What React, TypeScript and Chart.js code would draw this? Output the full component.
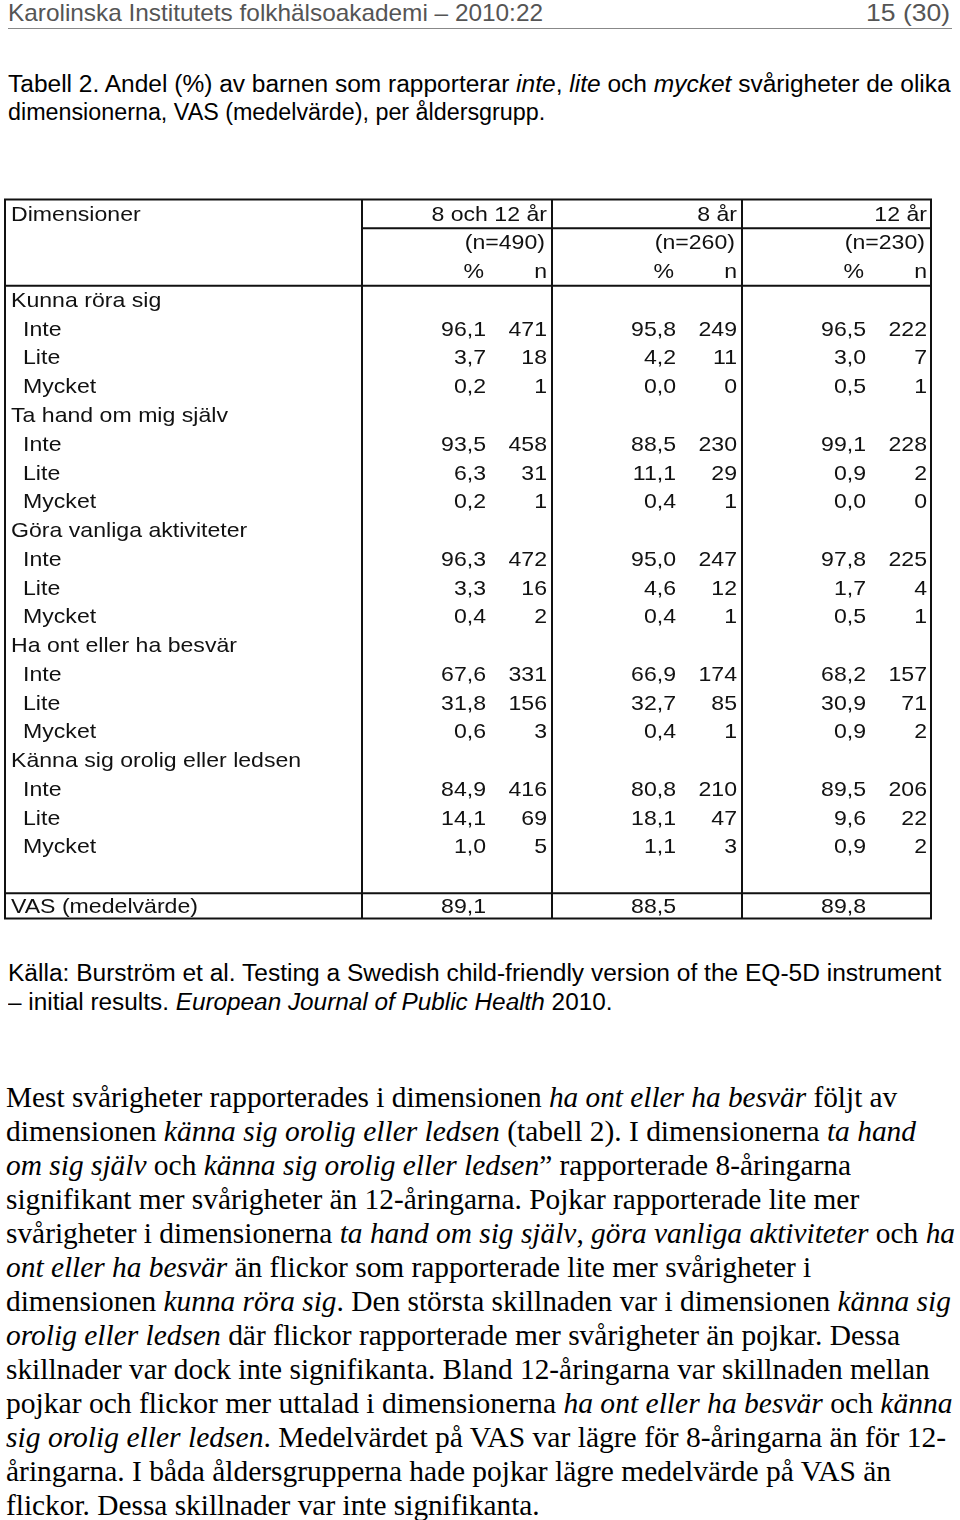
import React, { useEffect, useLayoutEffect, useRef, useState } from "react";
import { Chart, registerables } from "chart.js";

Chart.register(...registerables);

// ---------- data ----------
const dimensions = [
  "Kunna röra sig",
  "Ta hand om mig själv",
  "Göra vanliga aktiviteter",
  "Ha ont eller ha besvär",
  "Känna sig orolig eller ledsen",
];
const levels = ["Inte", "Lite", "Mycket"];
const groupTitles = ["8 och 12 år", "8 år", "12 år"];
const groupN = [490, 260, 230];

// per dimension x level (Inte, Lite, Mycket)
const pctAll = [96.1, 3.7, 0.2, 93.5, 6.3, 0.2, 96.3, 3.3, 0.4, 67.6, 31.8, 0.6, 84.9, 14.1, 1.0];
const nAll = [471, 18, 1, 458, 31, 1, 472, 16, 2, 331, 156, 3, 416, 69, 5];
const pct8 = [95.8, 4.2, 0.0, 88.5, 11.1, 0.4, 95.0, 4.6, 0.4, 66.9, 32.7, 0.4, 80.8, 18.1, 1.1];
const n8 = [249, 11, 0, 230, 29, 1, 247, 12, 1, 174, 85, 1, 210, 47, 3];
const pct12 = [96.5, 3.0, 0.5, 99.1, 0.9, 0.0, 97.8, 1.7, 0.5, 68.2, 30.9, 0.9, 89.5, 9.6, 0.9];
const n12 = [222, 7, 1, 228, 2, 0, 225, 4, 1, 157, 71, 2, 206, 22, 2];
const vasLabel = "VAS (medelvärde)";
const vasValues = [89.1, 88.5, 89.8];

const pctSeries = [pctAll, pct8, pct12];
const nSeries = [nAll, n8, n12];

// ---------- table rows (category scale labels) ----------
type Row = { label: string; kind: "head" | "group" | "level" | "blank" | "vas"; idx?: number };
const rows: Row[] = [
  { label: "Dimensioner", kind: "head" },
  { label: "", kind: "head" },
  { label: "", kind: "head" },
];
dimensions.forEach((d, di) => {
  rows.push({ label: d, kind: "group" });
  levels.forEach((l, li) => rows.push({ label: l, kind: "level", idx: di * 3 + li }));
});
rows.push({ label: "", kind: "blank" });
rows.push({ label: vasLabel, kind: "vas" });
const rowLabels = rows.map((r) => r.label);

const fmt = (v: number) => v.toFixed(1).replace(".", ",");

// ---------- layout (canvas coords) ----------
const COL_LINES = [362, 552, 742];
const PCT_RIGHT = [486, 676, 866];
const N_RIGHT = [547, 737, 927];
const LABEL_X = 11;
const LEVEL_X = 23;
const TABLE_FONT = '21px "Liberation Sans"';
const SX = 1.1;

function drawText(ctx: CanvasRenderingContext2D, text: string, x: number, y: number, align: CanvasTextAlign) {
  ctx.save();
  ctx.translate(x, y);
  ctx.scale(SX, 1);
  ctx.textAlign = align;
  ctx.fillText(text, 0, 0);
  ctx.restore();
}

const tablePlugin = {
  id: "tablePlugin",
  afterDraw(chart: any) {
    const ctx: CanvasRenderingContext2D = chart.ctx;
    const ys = chart.scales.y;
    const area = chart.chartArea;
    const pix = (i: number) => ys.getPixelForValue(i);
    const pitch = pix(1) - pix(0);
    ctx.save();
    ctx.fillStyle = "#111";
    ctx.strokeStyle = "#111";
    ctx.lineWidth = 2;
    ctx.font = TABLE_FONT;
    ctx.textBaseline = "middle";

    // borders
    ctx.strokeRect(area.left, area.top, area.right - area.left, area.bottom - area.top);
    ctx.beginPath();
    COL_LINES.forEach((x) => {
      ctx.moveTo(x, area.top);
      ctx.lineTo(x, area.bottom);
    });
    const hLine1 = (pix(0) + pix(1)) / 2;
    ctx.moveTo(COL_LINES[0], hLine1);
    ctx.lineTo(area.right, hLine1);
    const hLine2 = (pix(2) + pix(3)) / 2;
    ctx.moveTo(area.left, hLine2);
    ctx.lineTo(area.right, hLine2);
    const vasIdx = rows.length - 1;
    const hLine3 = pix(vasIdx) - pitch * 0.38;
    ctx.moveTo(area.left, hLine3);
    ctx.lineTo(area.right, hLine3);
    ctx.stroke();

    const ty = (i: number) => pix(i) + 1;

    // header
    drawText(ctx, rows[0].label, LABEL_X, ty(0), "left");
    groupTitles.forEach((g, gi) => {
      drawText(ctx, g, N_RIGHT[gi], ty(0), "right");
      drawText(ctx, `(n=${groupN[gi]})`, N_RIGHT[gi] - 2, ty(1), "right");
      drawText(ctx, "%", PCT_RIGHT[gi] - 2, ty(2), "right");
      drawText(ctx, "n", N_RIGHT[gi], ty(2), "right");
    });

    rows.forEach((r, i) => {
      if (r.kind === "group") drawText(ctx, r.label, LABEL_X, ty(i), "left");
      if (r.kind === "level" && r.idx !== undefined) {
        drawText(ctx, r.label, LEVEL_X, ty(i), "left");
        for (let g = 0; g < 3; g++) {
          drawText(ctx, fmt(pctSeries[g][r.idx]), PCT_RIGHT[g], ty(i), "right");
          drawText(ctx, String(nSeries[g][r.idx]), N_RIGHT[g], ty(i), "right");
        }
      }
      if (r.kind === "vas") {
        const vy = (hLine3 + area.bottom) / 2 + 1;
        drawText(ctx, r.label, LABEL_X, vy, "left");
        vasValues.forEach((v, g) => drawText(ctx, fmt(v), PCT_RIGHT[g], vy, "right"));
      }
    });
    ctx.restore();
  },
};

// ---------- page text ----------
const headerLeft = "Karolinska Institutets folkhälsoakademi – 2010:22";
const headerRight = "15 (30)";
const captionLines = [
  "Tabell 2. Andel (%) av barnen som rapporterar *inte*, *lite* och *mycket* svårigheter de olika",
  "dimensionerna, VAS (medelvärde), per åldersgrupp.",
];
const sourceLines = [
  "Källa: Burström et al. Testing a Swedish child-friendly version of the EQ-5D instrument",
  "– initial results. *European Journal of Public Health* 2010.",
];
const paragraphLines = [
  "Mest svårigheter rapporterades i dimensionen *ha ont eller ha besvär* följt av",
  "dimensionen *känna sig orolig eller ledsen* (tabell 2). I dimensionerna *ta hand*",
  "*om sig själv* och *känna sig orolig eller ledsen*” rapporterade 8-åringarna",
  "signifikant mer svårigheter än 12-åringarna. Pojkar rapporterade lite mer",
  "svårigheter i dimensionerna *ta hand om sig själv*, *göra vanliga aktiviteter* och *ha*",
  "*ont eller ha besvär* än flickor som rapporterade lite mer svårigheter i",
  "dimensionen *kunna röra sig*. Den största skillnaden var i dimensionen *känna sig*",
  "*orolig eller ledsen* där flickor rapporterade mer svårigheter än pojkar. Dessa",
  "skillnader var dock inte signifikanta. Bland 12-åringarna var skillnaden mellan",
  "pojkar och flickor mer uttalad i dimensionerna *ha ont eller ha besvär* och *känna*",
  "*sig orolig eller ledsen*. Medelvärdet på VAS var lägre för 8-åringarna än för 12-",
  "åringarna. I båda åldersgrupperna hade pojkar lägre medelvärde på VAS än",
  "flickor. Dessa skillnader var inte signifikanta.",
];
const paragraphRight = [897, 916, 851, 859, 955, 811, 951, 900, 930, 953, 946, 891, 540];

function renderParts(s: string) {
  return s.split("*").map((p, i) => (i % 2 === 1 ? <i key={i}>{p}</i> : <span key={i}>{p}</span>));
}

function FitLine(props: { x: number; y: number; width: number; size: number; family: string; color?: string; text: string }) {
  const ref = useRef<HTMLDivElement>(null);
  const [s, setS] = useState(1);
  useLayoutEffect(() => {
    const el = ref.current;
    if (!el) return;
    const w = el.scrollWidth;
    if (w > 0) setS(props.width / w);
  }, [props.width, props.text]);
  return (
    <div
      ref={ref}
      style={{
        position: "absolute",
        left: props.x,
        top: props.y - props.size / 2,
        fontSize: props.size,
        lineHeight: `${props.size}px`,
        fontFamily: props.family,
        color: props.color || "#000",
        whiteSpace: "nowrap",
        transform: `scaleX(${s})`,
        transformOrigin: "0 50%",
      }}
    >
      {renderParts(props.text)}
    </div>
  );
}

const SANS = '"Liberation Sans", Arial, sans-serif';
const SERIF = '"Liberation Serif", "Times New Roman", serif';

export default function App() {
  const canvasRef = useRef<HTMLCanvasElement>(null);
  useEffect(() => {
    const canvas = canvasRef.current;
    if (!canvas) return;
    const chart = new Chart(canvas, {
      type: "scatter",
      data: { datasets: [{ data: [] }] },
      options: {
        responsive: false,
        animation: false,
        events: [],
        devicePixelRatio: 1,
        layout: { padding: { top: 9.5, bottom: 11.5, left: 5, right: 29 } },
        plugins: { legend: { display: false }, tooltip: { enabled: false } },
        scales: {
          x: { type: "linear", display: false, min: 0, max: 1 },
          y: { type: "category", labels: rowLabels, offset: true, display: false },
        },
      },
      plugins: [tablePlugin],
    } as any);
    return () => chart.destroy();
  }, []);

  return (
    <div style={{ position: "absolute", left: 0, top: 0, width: 960, height: 1520, background: "#fff", overflow: "hidden" }}>
      <FitLine x={8} y={13} width={535} size={24} family={SANS} color="#555" text={headerLeft} />
      <FitLine x={866} y={13} width={84} size={24} family={SANS} color="#555" text={headerRight} />
      <div style={{ position: "absolute", left: 8, top: 28, width: 944, height: 1, background: "#888" }} />

      <FitLine x={8} y={84} width={943} size={23} family={SANS} text={captionLines[0]} />
      <FitLine x={8} y={112} width={537} size={23} family={SANS} text={captionLines[1]} />

      <canvas ref={canvasRef} width={960} height={740} style={{ position: "absolute", left: 0, top: 190, width: 960, height: 740 }} />

      <FitLine x={8} y={973} width={933} size={23} family={SANS} text={sourceLines[0]} />
      <FitLine x={8} y={1002} width={605} size={23} family={SANS} text={sourceLines[1]} />

      {paragraphLines.map((t, i) => (
        <FitLine key={i} x={6} y={1097 + i * 34} width={paragraphRight[i] - 6} size={30} family={SERIF} text={t} />
      ))}
    </div>
  );
}
